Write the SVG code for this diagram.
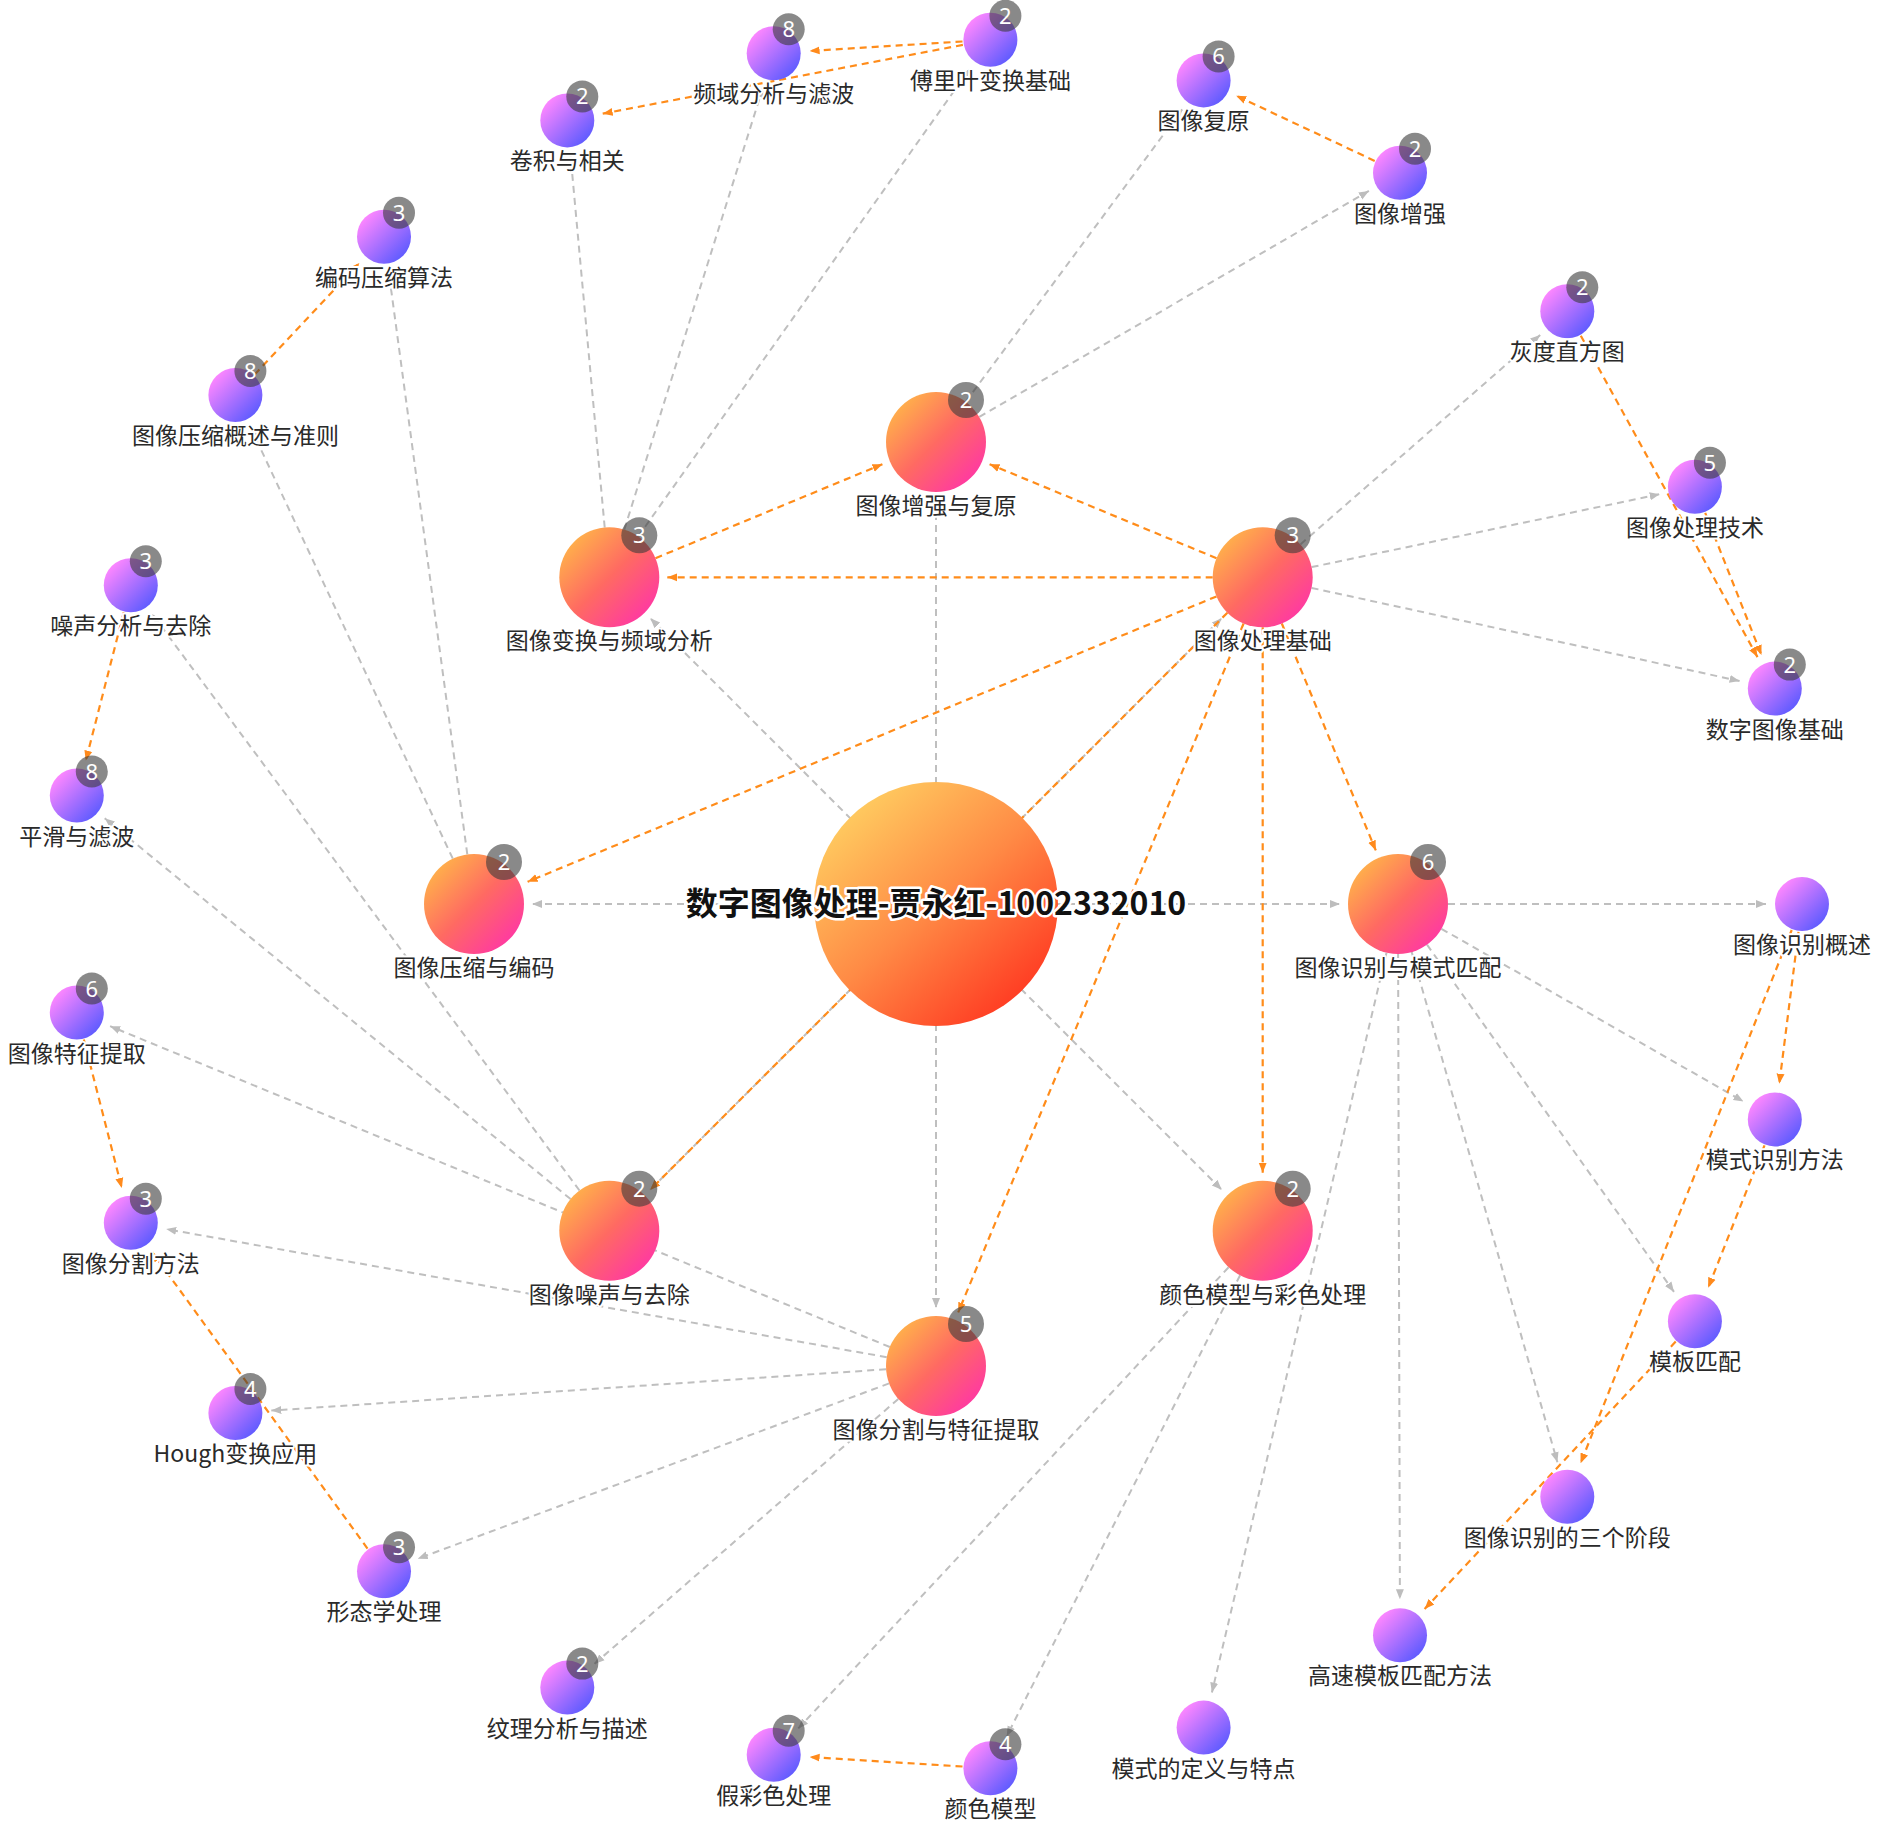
<svg xmlns="http://www.w3.org/2000/svg" width="1878" height="1831" viewBox="0 0 1878 1831">
<defs>
<style>
.g{stroke:#bfbfbf;stroke-width:2;stroke-dasharray:7 5;fill:none;marker-end:url(#ag)}
.o{stroke:#ff8c1a;stroke-width:2.2;stroke-dasharray:7 5;fill:none;marker-end:url(#ao)}
.big{fill:url(#gBig)}
.sm{fill:url(#gSm)}
.bd{fill:#3a3a3a;fill-opacity:0.6}
.bt{fill:#fff;font-size:22px;font-family:"Noto Sans","DejaVu Sans",sans-serif;text-anchor:middle}
.lb{fill:#2a2a2a;font-size:23px;font-family:"Noto Sans CJK SC","Noto Sans",sans-serif;text-anchor:middle;stroke:#fff;stroke-width:4;stroke-linejoin:round;paint-order:stroke}
.ct{fill:#111;font-size:32px;font-weight:bold;font-family:"Noto Sans CJK SC","Noto Sans",sans-serif;text-anchor:middle;stroke:#fff;stroke-width:5;stroke-linejoin:round;paint-order:stroke}
</style>
<linearGradient id="gCen" x1="0.15" y1="0.1" x2="0.85" y2="0.9"><stop offset="0" stop-color="#ffcc60"/><stop offset="0.5" stop-color="#ff8a45"/><stop offset="1" stop-color="#ff3a22"/></linearGradient>
<linearGradient id="gBig" x1="0.15" y1="0.15" x2="0.85" y2="0.85"><stop offset="0" stop-color="#ffac4c"/><stop offset="0.5" stop-color="#ff6a62"/><stop offset="1" stop-color="#ff3c9e"/></linearGradient>
<linearGradient id="gSm" x1="0.15" y1="0.15" x2="0.85" y2="0.85"><stop offset="0" stop-color="#fb86ff"/><stop offset="1" stop-color="#625cff"/></linearGradient>
<marker id="ag" viewBox="0 0 10 10" refX="10" refY="5" markerWidth="10" markerHeight="10" markerUnits="userSpaceOnUse" orient="auto"><path d="M0,1 L10,5 L0,9 z" fill="#bdbdbd"/></marker>
<marker id="ao" viewBox="0 0 10 10" refX="10" refY="5" markerWidth="10" markerHeight="10" markerUnits="userSpaceOnUse" orient="auto"><path d="M0,1 L10,5 L0,9 z" fill="#ff8a1c"/></marker>
</defs>
<rect width="1878" height="1831" fill="#fff"/>
<g id="connectors">
<line class="g" x1="936" y1="904" x2="936" y2="500"/>
<line class="g" x1="936" y1="904" x2="1221.7" y2="618.3"/>
<line class="g" x1="936" y1="904" x2="1340" y2="904"/>
<line class="g" x1="936" y1="904" x2="1221.7" y2="1189.7"/>
<line class="g" x1="936" y1="904" x2="936" y2="1308"/>
<line class="g" x1="936" y1="904" x2="650.3" y2="1189.7"/>
<line class="g" x1="936" y1="904" x2="532" y2="904"/>
<line class="g" x1="936" y1="904" x2="650.3" y2="618.3"/>
<line class="g" x1="965.7" y1="401.8" x2="1182.2" y2="109.3"/>
<line class="g" x1="979.3" y1="416.9" x2="1368.9" y2="190.9"/>
<line class="g" x1="604.7" y1="527.5" x2="570.6" y2="156.2"/>
<line class="g" x1="624.3" y1="529.6" x2="762.9" y2="87.6"/>
<line class="g" x1="638.2" y1="536.5" x2="969.6" y2="69.1"/>
<line class="g" x1="1300.4" y1="544.4" x2="1540.2" y2="334.9"/>
<line class="g" x1="1311.6" y1="567.1" x2="1659.7" y2="494.2"/>
<line class="g" x1="1311.6" y1="587.9" x2="1739.6" y2="681"/>
<line class="g" x1="452.8" y1="858.7" x2="250.7" y2="427.6"/>
<line class="g" x1="467.3" y1="854.4" x2="388.8" y2="272.4"/>
<line class="g" x1="570.6" y1="1199.1" x2="104.7" y2="818.3"/>
<line class="g" x1="579.5" y1="1190.5" x2="152.2" y2="614.1"/>
<line class="g" x1="898.3" y1="1398.9" x2="594.4" y2="1663.9"/>
<line class="g" x1="889.1" y1="1383.4" x2="417.7" y2="1558.8"/>
<line class="g" x1="886.1" y1="1369.3" x2="271.3" y2="1410.6"/>
<line class="g" x1="886.8" y1="1357.2" x2="166.2" y2="1229.1"/>
<line class="g" x1="889.8" y1="1347" x2="110.1" y2="1026.2"/>
<line class="g" x1="1240.1" y1="1275.3" x2="1006.7" y2="1736.2"/>
<line class="g" x1="1228.6" y1="1267.3" x2="798.3" y2="1728.4"/>
<line class="g" x1="1448" y1="904" x2="1766" y2="904"/>
<line class="g" x1="1441.4" y1="928.8" x2="1743.5" y2="1101.5"/>
<line class="g" x1="1427" y1="944.7" x2="1674" y2="1291.9"/>
<line class="g" x1="1411.7" y1="952.1" x2="1557.4" y2="1462.2"/>
<line class="g" x1="1398.1" y1="954" x2="1399.9" y2="1599.2"/>
<line class="g" x1="1386.5" y1="952.7" x2="1211.9" y2="1692.6"/>
<line class="o" x1="1216.5" y1="558.2" x2="989.6" y2="464.2"/>
<line class="o" x1="1212.7" y1="577.3" x2="667.3" y2="577.3"/>
<line class="o" x1="1216.5" y1="596.4" x2="527.6" y2="881.8"/>
<line class="o" x1="1227.4" y1="612.7" x2="650.3" y2="1189.7"/>
<line class="o" x1="1243.6" y1="623.5" x2="958.2" y2="1312.4"/>
<line class="o" x1="1262.7" y1="627.3" x2="1262.7" y2="1172.7"/>
<line class="o" x1="1281.8" y1="623.5" x2="1375.8" y2="850.4"/>
<line class="o" x1="655.5" y1="558.2" x2="882.4" y2="464.2"/>
<line class="o" x1="962.5" y1="41.5" x2="809.6" y2="51"/>
<line class="o" x1="962.9" y1="44.9" x2="602.7" y2="113.7"/>
<line class="o" x1="1374.7" y1="160.9" x2="1236.2" y2="95.7"/>
<line class="o" x1="254.6" y1="374.6" x2="359.4" y2="262.9"/>
<line class="o" x1="123.8" y1="612.3" x2="85.8" y2="760.6"/>
<line class="o" x1="83.8" y1="1039.6" x2="121.8" y2="1187.9"/>
<line class="o" x1="367.5" y1="1548.6" x2="152" y2="1251.9"/>
<line class="o" x1="962.5" y1="1766.5" x2="809.6" y2="1757"/>
<line class="o" x1="1580.8" y1="335.7" x2="1757.5" y2="657.1"/>
<line class="o" x1="1705.2" y1="512.8" x2="1761.5" y2="655.1"/>
<line class="o" x1="1798.5" y1="931.8" x2="1779.3" y2="1083.7"/>
<line class="o" x1="1764.5" y1="1145.4" x2="1708.2" y2="1287.7"/>
<line class="o" x1="1791.7" y1="930" x2="1580.6" y2="1463.3"/>
<line class="o" x1="1675.7" y1="1341.6" x2="1424.6" y2="1609"/>
</g>
<g id="n-center"><circle cx="936" cy="904" r="122" fill="url(#gCen)"/><text class="ct" x="936" y="915">数字图像处理-贾永红-1002332010</text></g>
<g id="n-enh"><circle class="big" cx="936" cy="442" r="50"/><circle class="bd" cx="966" cy="400" r="18"/><text class="bt" x="966" y="408">2</text><text class="lb" x="936" y="514">图像增强与复原</text></g>
<g id="n-trans"><circle class="big" cx="609.3" cy="577.3" r="50"/><circle class="bd" cx="639.3" cy="535.3" r="18"/><text class="bt" x="639.3" y="543.3">3</text><text class="lb" x="609.3" y="649.3">图像变换与频域分析</text></g>
<g id="n-basic"><circle class="big" cx="1262.7" cy="577.3" r="50"/><circle class="bd" cx="1292.7" cy="535.3" r="18"/><text class="bt" x="1292.7" y="543.3">3</text><text class="lb" x="1262.7" y="649.3">图像处理基础</text></g>
<g id="n-comp"><circle class="big" cx="474" cy="904" r="50"/><circle class="bd" cx="504" cy="862" r="18"/><text class="bt" x="504" y="870">2</text><text class="lb" x="474" y="976">图像压缩与编码</text></g>
<g id="n-recog"><circle class="big" cx="1398" cy="904" r="50"/><circle class="bd" cx="1428" cy="862" r="18"/><text class="bt" x="1428" y="870">6</text><text class="lb" x="1398" y="976">图像识别与模式匹配</text></g>
<g id="n-noise"><circle class="big" cx="609.3" cy="1230.7" r="50"/><circle class="bd" cx="639.3" cy="1188.7" r="18"/><text class="bt" x="639.3" y="1196.7">2</text><text class="lb" x="609.3" y="1302.7">图像噪声与去除</text></g>
<g id="n-color"><circle class="big" cx="1262.7" cy="1230.7" r="50"/><circle class="bd" cx="1292.7" cy="1188.7" r="18"/><text class="bt" x="1292.7" y="1196.7">2</text><text class="lb" x="1262.7" y="1302.7">颜色模型与彩色处理</text></g>
<g id="n-seg"><circle class="big" cx="936" cy="1366" r="50"/><circle class="bd" cx="966" cy="1324" r="18"/><text class="bt" x="966" y="1332">5</text><text class="lb" x="936" y="1438">图像分割与特征提取</text></g>
<g id="n-k0"><circle class="sm" cx="1802" cy="904" r="27"/><text class="lb" x="1802" y="953">图像识别概述</text></g>
<g id="n-k1"><circle class="sm" cx="1774.8" cy="1119.4" r="27"/><text class="lb" x="1774.8" y="1168.4">模式识别方法</text></g>
<g id="n-k2"><circle class="sm" cx="1694.9" cy="1321.2" r="27"/><text class="lb" x="1694.9" y="1370.2">模板匹配</text></g>
<g id="n-k3"><circle class="sm" cx="1567.3" cy="1496.8" r="27"/><text class="lb" x="1567.3" y="1545.8">图像识别的三个阶段</text></g>
<g id="n-k4"><circle class="sm" cx="1400" cy="1635.2" r="27"/><text class="lb" x="1400" y="1684.2">高速模板匹配方法</text></g>
<g id="n-k5"><circle class="sm" cx="1203.6" cy="1727.6" r="27"/><text class="lb" x="1203.6" y="1776.6">模式的定义与特点</text></g>
<g id="n-k6"><circle class="sm" cx="990.4" cy="1768.3" r="27"/><circle class="bd" cx="1005.4" cy="1744.3" r="16"/><text class="bt" x="1005.4" y="1752.3">4</text><text class="lb" x="990.4" y="1817.3">颜色模型</text></g>
<g id="n-k7"><circle class="sm" cx="773.7" cy="1754.7" r="27"/><circle class="bd" cx="788.7" cy="1730.7" r="16"/><text class="bt" x="788.7" y="1738.7">7</text><text class="lb" x="773.7" y="1803.7">假彩色处理</text></g>
<g id="n-k8"><circle class="sm" cx="567.3" cy="1687.6" r="27"/><circle class="bd" cx="582.3" cy="1663.6" r="16"/><text class="bt" x="582.3" y="1671.6">2</text><text class="lb" x="567.3" y="1736.6">纹理分析与描述</text></g>
<g id="n-k9"><circle class="sm" cx="384" cy="1571.3" r="27"/><circle class="bd" cx="399" cy="1547.3" r="16"/><text class="bt" x="399" y="1555.3">3</text><text class="lb" x="384" y="1620.3">形态学处理</text></g>
<g id="n-k10"><circle class="sm" cx="235.4" cy="1413" r="27"/><circle class="bd" cx="250.4" cy="1389" r="16"/><text class="bt" x="250.4" y="1397">4</text><text class="lb" x="235.4" y="1462">Hough变换应用</text></g>
<g id="n-k11"><circle class="sm" cx="130.8" cy="1222.8" r="27"/><circle class="bd" cx="145.8" cy="1198.8" r="16"/><text class="bt" x="145.8" y="1206.8">3</text><text class="lb" x="130.8" y="1271.8">图像分割方法</text></g>
<g id="n-k12"><circle class="sm" cx="76.8" cy="1012.5" r="27"/><circle class="bd" cx="91.8" cy="988.5" r="16"/><text class="bt" x="91.8" y="996.5">6</text><text class="lb" x="76.8" y="1061.5">图像特征提取</text></g>
<g id="n-k13"><circle class="sm" cx="76.8" cy="795.5" r="27"/><circle class="bd" cx="91.8" cy="771.5" r="16"/><text class="bt" x="91.8" y="779.5">8</text><text class="lb" x="76.8" y="844.5">平滑与滤波</text></g>
<g id="n-k14"><circle class="sm" cx="130.8" cy="585.2" r="27"/><circle class="bd" cx="145.8" cy="561.2" r="16"/><text class="bt" x="145.8" y="569.2">3</text><text class="lb" x="130.8" y="634.2">噪声分析与去除</text></g>
<g id="n-k15"><circle class="sm" cx="235.4" cy="395" r="27"/><circle class="bd" cx="250.4" cy="371" r="16"/><text class="bt" x="250.4" y="379">8</text><text class="lb" x="235.4" y="444">图像压缩概述与准则</text></g>
<g id="n-k16"><circle class="sm" cx="384" cy="236.7" r="27"/><circle class="bd" cx="399" cy="212.7" r="16"/><text class="bt" x="399" y="220.7">3</text><text class="lb" x="384" y="285.7">编码压缩算法</text></g>
<g id="n-k17"><circle class="sm" cx="567.3" cy="120.4" r="27"/><circle class="bd" cx="582.3" cy="96.4" r="16"/><text class="bt" x="582.3" y="104.4">2</text><text class="lb" x="567.3" y="169.4">卷积与相关</text></g>
<g id="n-k18"><circle class="sm" cx="773.7" cy="53.3" r="27"/><circle class="bd" cx="788.7" cy="29.3" r="16"/><text class="bt" x="788.7" y="37.3">8</text><text class="lb" x="773.7" y="102.3">频域分析与滤波</text></g>
<g id="n-k19"><circle class="sm" cx="990.4" cy="39.7" r="27"/><circle class="bd" cx="1005.4" cy="15.7" r="16"/><text class="bt" x="1005.4" y="23.7">2</text><text class="lb" x="990.4" y="88.7">傅里叶变换基础</text></g>
<g id="n-k20"><circle class="sm" cx="1203.6" cy="80.4" r="27"/><circle class="bd" cx="1218.6" cy="56.4" r="16"/><text class="bt" x="1218.6" y="64.4">6</text><text class="lb" x="1203.6" y="129.4">图像复原</text></g>
<g id="n-k21"><circle class="sm" cx="1400" cy="172.8" r="27"/><circle class="bd" cx="1415" cy="148.8" r="16"/><text class="bt" x="1415" y="156.8">2</text><text class="lb" x="1400" y="221.8">图像增强</text></g>
<g id="n-k22"><circle class="sm" cx="1567.3" cy="311.2" r="27"/><circle class="bd" cx="1582.3" cy="287.2" r="16"/><text class="bt" x="1582.3" y="295.2">2</text><text class="lb" x="1567.3" y="360.2">灰度直方图</text></g>
<g id="n-k23"><circle class="sm" cx="1694.9" cy="486.8" r="27"/><circle class="bd" cx="1709.9" cy="462.8" r="16"/><text class="bt" x="1709.9" y="470.8">5</text><text class="lb" x="1694.9" y="535.8">图像处理技术</text></g>
<g id="n-k24"><circle class="sm" cx="1774.8" cy="688.6" r="27"/><circle class="bd" cx="1789.8" cy="664.6" r="16"/><text class="bt" x="1789.8" y="672.6">2</text><text class="lb" x="1774.8" y="737.6">数字图像基础</text></g>
</svg>
